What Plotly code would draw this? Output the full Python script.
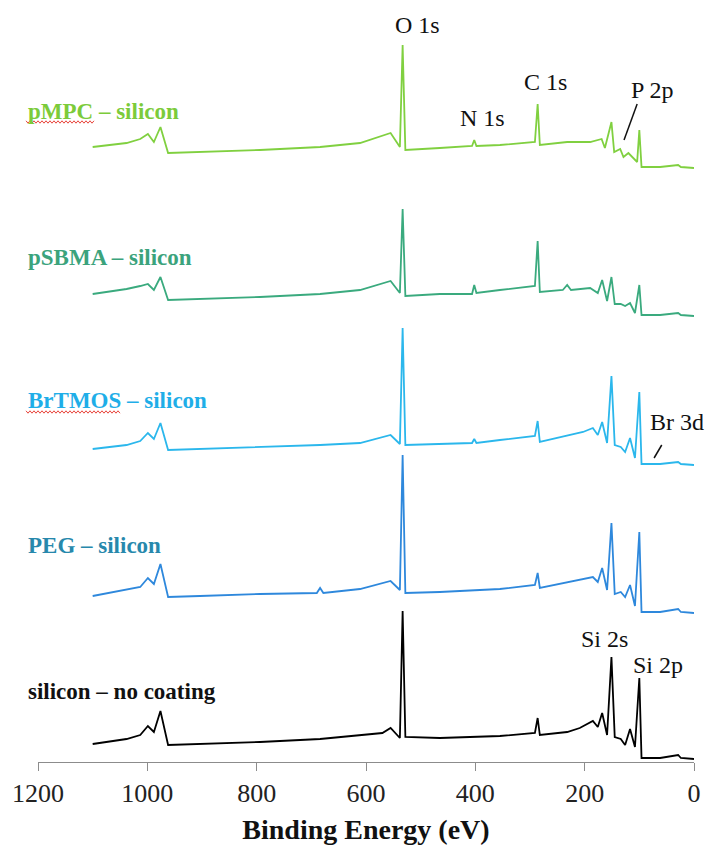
import plotly.graph_objects as go

# ---------------- data (binding energy in eV, intensity in stacked arbitrary units) -------------
series_names = ["pMPC – silicon", "pSBMA – silicon", "BrTMOS – silicon", "PEG – silicon", "silicon – no coating"]

pmpc_e = [1100, 1038, 1013, 999, 988, 976, 962, 904, 794, 684, 611, 555, 538, 533, 528, 465, 406, 402, 398,
          355, 291, 286, 282, 232, 190, 169, 163, 151, 146, 135, 129, 120, 104, 100, 96, 62, 29, 24, 0]
pmpc_i = [615, 619, 623, 628, 620, 635, 609, 610, 612, 615, 619, 629, 615, 717, 612, 614, 616, 622, 616,
          617, 620, 658, 617, 620, 620, 623, 614, 640, 610, 613, 605, 609, 600, 632, 595, 595, 597, 595, 594]

psbma_e = [1100, 1038, 1013, 999, 988, 976, 962, 904, 794, 684, 611, 555, 538, 533, 528, 465, 406, 402, 398,
           355, 291, 286, 282, 240, 232, 225, 190, 176, 168, 159, 151, 145, 134, 126, 117, 108, 100, 96, 62, 29, 24, 0]
psbma_i = [468, 473, 476, 478, 472, 485, 462, 463, 465, 468, 472, 481, 469, 553, 466, 468, 468, 477, 469,
           472, 476, 521, 470, 472, 477, 472, 474, 469, 482, 461, 485, 458, 458, 456, 459, 449, 477, 447, 447, 449, 447, 446]

brtmos_e = [1100, 1038, 1013, 999, 988, 976, 962, 904, 794, 684, 611, 555, 538, 533, 528, 465, 406, 402, 398,
            355, 291, 286, 282, 203, 185, 176, 168, 159, 151, 145, 134, 126, 117, 108, 100, 96, 62, 29, 24, 0]
brtmos_i = [313, 317, 321, 329, 323, 339, 312, 313, 315, 317, 319, 327, 318, 434, 317, 318, 319, 323, 319,
            322, 326, 341, 320, 330, 334, 327, 340, 319, 386, 317, 315, 310, 324, 304, 370, 298, 298, 300, 298, 297]

peg_e = [1100, 1038, 1013, 999, 988, 976, 962, 904, 794, 690, 684, 678, 611, 555, 538, 533, 528, 465,
         355, 291, 286, 282, 209, 185, 176, 168, 159, 151, 145, 134, 126, 117, 108, 100, 96, 62, 29, 24, 0]
peg_i = [166, 172, 175, 184, 178, 198, 165, 166, 168, 169, 174, 169, 173, 181, 172, 307, 169, 170,
         173, 177, 189, 174, 182, 185, 180, 194, 172, 239, 168, 170, 165, 177, 156, 230, 150, 150, 153, 150, 149]

si_e = [1100, 1038, 1013, 999, 988, 976, 962, 904, 794, 684, 611, 570, 555, 538, 533, 528, 465, 402,
        355, 291, 286, 282, 232, 209, 185, 176, 168, 159, 151, 145, 134, 126, 117, 108, 100, 96, 62, 29, 24, 0]
si_i = [18, 23, 27, 36, 30, 51, 17, 18, 20, 23, 27, 29, 34, 24, 151, 25, 24, 25,
        26, 29, 44, 27, 30, 34, 41, 35, 49, 27, 105, 25, 23, 17, 33, 15, 84, 4, 4, 7, 4, 3]

line_colors = ["#80D040", "#3AAA7E", "#2BB7EC", "#2E88DC", "#000000"]
label_colors = ["#7CCB3A", "#3BA37C", "#1FAEE8", "#2788AC", "#111111"]
label_y = [651, 505, 362, 217, 71]

peak_labels = ["O 1s", "N 1s", "C 1s", "P 2p", "Br 3d", "Si 2s", "Si 2p"]
peak_label_x = [505, 386, 271, 77, 31, 163, 66]
peak_label_y = [737, 644, 680, 672, 340, 123, 97]

leader_x0 = [104, 59]
leader_y0 = [658, 317]
leader_x1 = [128, 73]
leader_y1 = [622, 304]

x_ticks = [1200, 1000, 800, 600, 400, 200, 0]

# ---------------- figure -----------------
W, H = 709, 851
ML, MR, MT, MB = 38, 15, 0, 89
PW, PH = W - ML - MR, H - MT - MB

energies = [pmpc_e, psbma_e, brtmos_e, peg_e, si_e]
intens = [pmpc_i, psbma_i, brtmos_i, peg_i, si_i]

fig = go.Figure()
for name, e, i, c in zip(series_names, energies, intens, line_colors):
    fig.add_trace(go.Scatter(x=e, y=i, mode="lines", name=name,
                             line=dict(color=c, width=1.8), showlegend=False))

SERIF = "Liberation Serif, Times New Roman, serif"
annotations = []
for name, c, y in zip(series_names, label_colors, label_y):
    annotations.append(dict(text="<b>" + name + "</b>", x=(26 - ML) / PW, xref="paper", y=y, yref="y",
                            xanchor="left", yanchor="middle", showarrow=False,
                            font=dict(family=SERIF, size=23, color=c)))
for t, x, y in zip(peak_labels, peak_label_x, peak_label_y):
    annotations.append(dict(text=t, x=x, y=y, xref="x", yref="y", xanchor="center", yanchor="middle",
                            showarrow=False, font=dict(family=SERIF, size=24, color="#111111")))

shapes = []
for x0, y0, x1, y1 in zip(leader_x0, leader_y0, leader_x1, leader_y1):
    shapes.append(dict(type="line", x0=x0, y0=y0, x1=x1, y1=y1, xref="x", yref="y",
                       line=dict(color="#111111", width=1.5)))

# spell-check style red wavy underlines under "pMPC" and "BrTMOS"
def wavy(x_start_px, x_end_px, y_val):
    pts = []
    n = int((x_end_px - x_start_px) / 2)
    for k in range(n + 1):
        px = x_start_px + 2 * k
        dy = 1.2 if k % 2 == 0 else -1.2
        pts.append(((px - ML) / PW, y_val + dy))
    path = "M " + " L ".join(f"{a:.5f},{b:.2f}" for a, b in pts)
    return dict(type="path", path=path, xref="paper", yref="y",
                line=dict(color="#E8453C", width=1))

shapes.append(wavy(26, 95, 640))
shapes.append(wavy(26, 120, 350))

fig.update_layout(
    width=W, height=H,
    margin=dict(l=ML, r=MR, t=MT, b=MB),
    paper_bgcolor="white", plot_bgcolor="white",
    annotations=annotations, shapes=shapes,
    xaxis=dict(range=[1200, 0], tickvals=x_ticks, ticktext=[str(v) for v in x_ticks],
               showline=True, linecolor="#8C8C8C", linewidth=1.3,
               ticks="outside", ticklen=8, tickcolor="#8C8C8C", tickwidth=1.3,
               showgrid=False, zeroline=False,
               tickfont=dict(family=SERIF, size=26, color="#222222"),
               title=dict(text="<b>Binding Energy (eV)</b>", standoff=12,
                          font=dict(family=SERIF, size=28, color="#111111"))),
    yaxis=dict(range=[0, PH], visible=False, showgrid=False, zeroline=False),
)

fig.write_html("out.html", config={"displayModeBar": False},
               post_script="document.body.style.margin='0';document.body.style.overflow='hidden';")
